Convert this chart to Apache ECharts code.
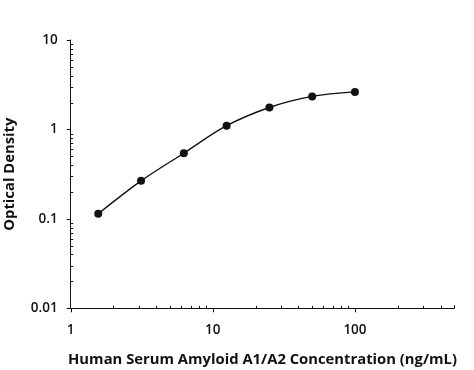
<!DOCTYPE html>
<html><head><meta charset="utf-8">
<script src="https://cdn.jsdelivr.net/npm/echarts@6/dist/echarts.min.js"></script>
<style>html,body{margin:0;padding:0;background:#fff}#c{width:474px;height:370px}</style>
</head><body><div id="c"></div>
<script>
const concentrations = [1.5625, 3.125, 6.25, 12.5, 25, 50, 100];
const opticalDensity = [0.114, 0.266, 0.542, 1.10, 1.76, 2.34, 2.63];
const xTickLabels = [1, 10, 100];
const yTickLabels = [0.01, 0.1, 1, 10];
const xRange = [1, 500];
const yRange = [0.01, 10];
const xTitle = 'Human Serum Amyloid A1/A2 Concentration (ng/mL)';
const yTitle = 'Optical Density';

const FONT = 'Open Sans';
const chart = echarts.init(document.getElementById('c'), null, {renderer: 'canvas'});
const fmt = v => String(parseFloat(Number(v).toPrecision(3)));
chart.setOption({
  animation: false,
  grid: {left: 70.7, right: 19.7, top: 40, bottom: 61.7, containLabel: false, outerBoundsMode: 'none'},
  xAxis: {
    type: 'log', logBase: 10, min: xRange[0], max: xRange[1],
    name: xTitle, nameLocation: 'middle', nameGap: 44,
    nameTextStyle: {fontFamily: FONT, fontWeight: 'bold', fontSize: 14.8, color: '#111'},
    axisLine: {lineStyle: {color: '#111', width: 1}},
    axisTick: {show: false},
    splitLine: {show: false},
    axisLabel: {fontFamily: FONT, fontSize: 13.5, fontWeight: 600, color: '#111', margin: 15,
      formatter: v => xTickLabels.some(t => Math.abs(t - v) / t < 1e-6) ? fmt(v) : ''}
  },
  yAxis: {
    type: 'log', logBase: 10, min: yRange[0], max: yRange[1],
    name: yTitle, nameLocation: 'middle', nameGap: 53,
    nameTextStyle: {fontFamily: FONT, fontWeight: 'bold', fontSize: 14.8, color: '#111'},
    axisLine: {lineStyle: {color: '#111', width: 1}},
    axisTick: {show: false},
    splitLine: {show: false},
    axisLabel: {fontFamily: FONT, fontSize: 13.5, fontWeight: 600, color: '#111', margin: 13,
      formatter: v => yTickLabels.some(t => Math.abs(t - v) / t < 1e-6) ? fmt(v) : ''}
  },
  series: [{
    type: 'line',
    data: concentrations.map((c, i) => [c, opticalDensity[i]]),
    smooth: 0.35,
    symbol: 'circle', symbolSize: 8,
    lineStyle: {color: '#111', width: 1.4},
    itemStyle: {color: '#111'}
  }]
});

// ticks: major outward, minor (2..9 per decade) inward
const g = [];
const line = (x1, y1, x2, y2) => g.push({type: 'line', silent: true,
  shape: {x1, y1, x2, y2}, style: {stroke: '#111', lineWidth: 1}});
const y0 = chart.convertToPixel({yAxisIndex: 0}, yRange[0]);
const x0 = chart.convertToPixel({xAxisIndex: 0}, xRange[0]);
for (let d = 1; d <= 100; d *= 10) {
  for (let k = 1; k <= 9; k++) {
    const v = d * k;
    if (v > xRange[1]) break;
    const px = Math.round(chart.convertToPixel({xAxisIndex: 0}, v)) + 0.5;
    if (k === 1) line(px, y0, px, y0 + 4); else line(px, y0, px, y0 - 2.5);
  }
}
const xEnd = Math.round(chart.convertToPixel({xAxisIndex: 0}, xRange[1])) + 0.5;
line(xEnd, y0, xEnd, y0 - 3);
for (let d = 0.01; d <= 10.0001; d *= 10) {
  for (let k = 1; k <= 9; k++) {
    const v = d * k;
    if (v > yRange[1] * 1.0001) break;
    const py = Math.round(chart.convertToPixel({yAxisIndex: 0}, v)) + 0.5;
    if (k === 1) line(x0, py, x0 - 4, py); else line(x0, py, x0 + 2.5, py);
  }
}
chart.setOption({graphic: g});
</script>
</body></html>
